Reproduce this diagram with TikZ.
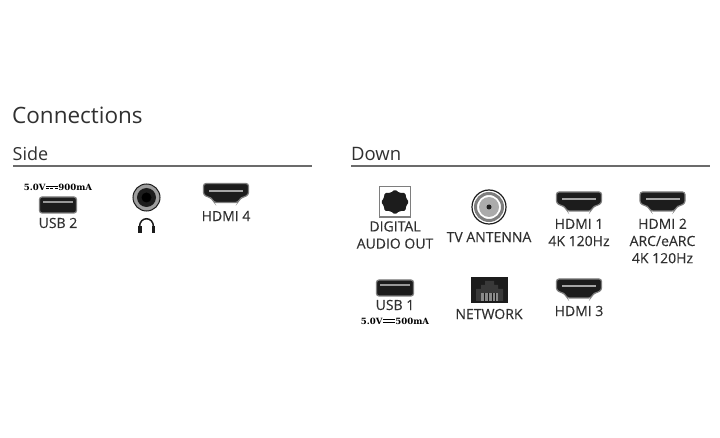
\documentclass[tikz,border=0pt]{standalone}
\usepackage{fontspec}
\setmainfont{Open Sans}
\newfontfamily\smallfont{DejaVu Serif}
\newcommand{\dcsolid}{\kern.4pt\rlap{\rule[3.7pt]{12pt}{.95pt}}\rule[1.5pt]{12pt}{.95pt}\kern.4pt}
\newcommand{\dcdash}{\kern.4pt\rlap{\rule[3.7pt]{12pt}{.95pt}}\rule[1.5pt]{3pt}{.95pt}\kern1.5pt\rule[1.5pt]{3pt}{.95pt}\kern1.5pt\rule[1.5pt]{3pt}{.95pt}\kern.4pt}
\definecolor{portdark}{HTML}{1C1C1C}
\definecolor{portgrey}{HTML}{7E7E7E}
\definecolor{labelgrey}{HTML}{303030}
\tikzset{
  heading/.style={anchor=base west,inner sep=0pt,text=labelgrey},
  portlabel/.style={inner sep=0pt,text=labelgrey,font=\fontsize{14}{16}\selectfont\addfontfeature{FakeBold=0.2}},
  ratinglabel/.style={inner sep=0pt,text=black,font=\smallfont\bfseries\fontsize{8.6}{9}\selectfont},
  rule/.style={draw=portgrey!85!black,line width=1.1pt},
  hdmiport/.pic={
    \draw[draw=portgrey,line width=1.2pt,fill=portdark,rounded corners=2.5pt]
      (-22.5,-9.5)--(22.5,-9.5)--(22.5,2)--(14,5.5)--(12,9.5)--(-12,9.5)--(-14,5.5)--(-22.5,2)--cycle;
    \fill[portgrey!70] (-17,-3) rectangle (17,-1.2);
  },
  usbport/.pic={
    \draw[draw=portgrey,line width=1.2pt,fill=portdark,rounded corners=2.5pt] (-18.5,-8) rectangle (18.5,8);
    \fill[portgrey!80] (-15,-3.8) rectangle (15,-1.6);
  }
}
\begin{document}
\begin{tikzpicture}[x=1pt,y=-1pt]
  \useasboundingbox (0,0) rectangle (720,438);
  % headings
  \node[heading,font=\fontsize{22.5}{24}\selectfont] (conn) at (12,123.5) {Connections};
  \node[heading,font=\fontsize{18}{20}\selectfont] (side) at (12.5,160.5) {Side};
  \node[heading,font=\fontsize{18.5}{20}\selectfont] (down) at (351,160.5) {Down};
  \coordinate (sidea) at (13,166);
  \coordinate (sideb) at (312,166);
  \coordinate (downa) at (351,166);
  \coordinate (downb) at (710,166);
  \draw[rule] (sidea)--(sideb);
  \draw[rule] (downa)--(downb);
  % side
  \node[ratinglabel] (rate2) at (58,187.5) {5.0V\dcdash 900mA};
  \pic at (58,205) {usbport};
  \node[portlabel] (usb2) at (58,223) {USB 2};
  \filldraw[draw=portdark,fill=portgrey!75,line width=1pt] (146.5,197.5) circle (13.5);
  \fill[portdark] (146.5,197.5) circle (9.5);
  \fill[black] (146.5,197.5) circle (5);
  \draw[portdark,line width=1.5pt] (139.5,227)..controls (139.5,216) and (153.5,216)..(153.5,227);
  \fill[portdark] (138,226) rectangle (141.5,233.5);
  \fill[portdark] (151.5,226) rectangle (155,233.5);
  \pic at (226,193) {hdmiport};
  \node[portlabel] (hdmi4) at (226,216) {HDMI 4};
  % down, top row
  \draw[portgrey,line width=1.6pt,fill=white] (379.5,186.5) rectangle (410.5,217);
  \fill[portdark,rounded corners=1.5pt] (395,189.5)--(399.5,193)--(405.5,193)--(406,198)--(409,202)--(406,206)--(405.5,211)--(399.5,211)--(395,214.5)--(390.5,211)--(384.5,211)--(384,206)--(381,202)--(384,198)--(384.5,193)--(390.5,193)--cycle;
  \node[portlabel,align=center] (digital) at (395,235) {DIGITAL\\[1.2pt]AUDIO OUT};
  \filldraw[draw=portdark,fill=white,line width=1.2pt] (489,207) circle (17);
  \draw[portgrey,line width=3pt] (489,207) circle (13.5);
  \fill[portgrey!65] (489,207) circle (10);
  \fill[portdark] (489,207) circle (2.5);
  \node[portlabel] (antenna) at (489,237) {TV ANTENNA};
  \pic at (579,201.5) {hdmiport};
  \node[portlabel,align=center] (hdmi1) at (579,232.5) {HDMI 1\\[1.2pt]4K 120Hz};
  \pic at (662.5,201.5) {hdmiport};
  \node[portlabel,align=center] (hdmi2) at (662.5,241) {HDMI 2\\[1.2pt]ARC/eARC\\[1.2pt]4K 120Hz};
  % down, bottom row
  \pic at (395,288) {usbport};
  \node[portlabel] (usb1) at (395,305) {USB 1};
  \node[ratinglabel] (rate1) at (395,321) {5.0V\dcsolid 500mA};
  \fill[portdark] (471,277) rectangle (508,303);
  \fill[portgrey!45!black] (476,301)--(476,289)--(481,289)--(481,285)--(485,285)--(485,281)--(494,281)--(494,285)--(498,285)--(498,289)--(503,289)--(503,301)--cycle;
  \fill[portgrey!90] (481,293) rectangle (498,301);
  \foreach \i in {484,488,492,495} \fill[portdark] (\i,293) rectangle (\i+1,301);
  \node[portlabel] (network) at (489,314) {NETWORK};
  \pic at (579,288.5) {hdmiport};
  \node[portlabel] (hdmi3) at (579,311) {HDMI 3};
\end{tikzpicture}
\end{document}
